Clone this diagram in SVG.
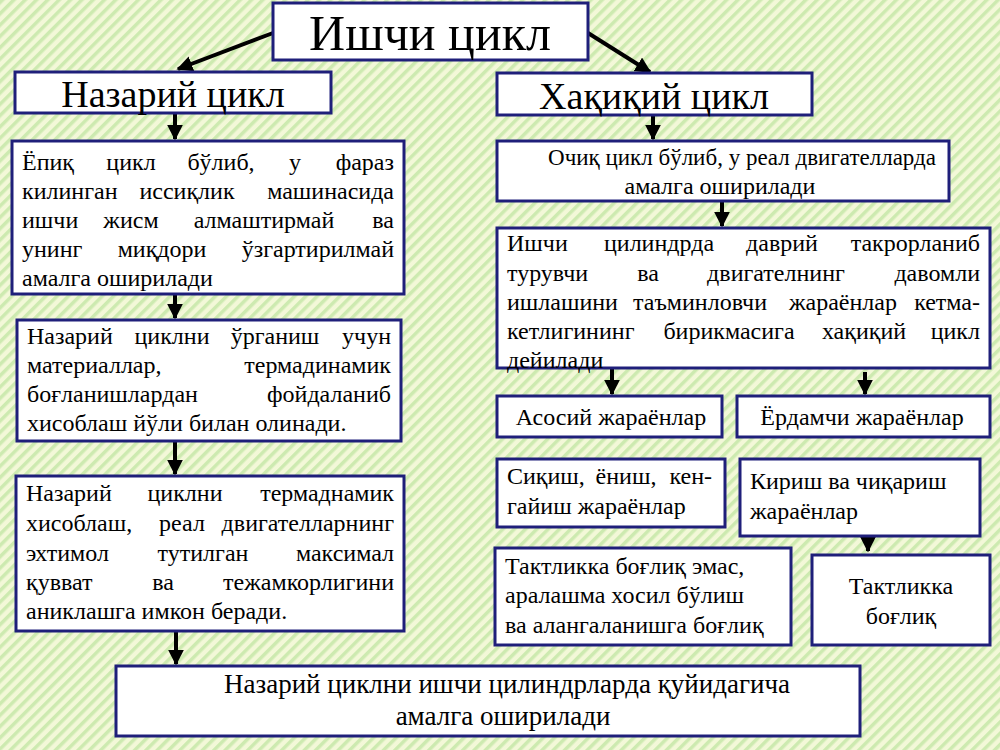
<svg xmlns="http://www.w3.org/2000/svg" width="1000" height="750" viewBox="0 0 1000 750" font-family="'Liberation Serif', 'Times New Roman', 'DejaVu Serif', serif">
<defs>
<pattern id="bg" patternUnits="userSpaceOnUse" width="8" height="8" patternTransform="rotate(45)">
<rect width="8" height="8" fill="#f3f8d8"/><rect width="3.5" height="8" fill="#cdeab0"/>
</pattern>
<marker id="ah" viewBox="0 0 10 10" refX="9" refY="5" markerWidth="4" markerHeight="4" orient="auto" markerUnits="strokeWidth"><path d="M0,0 L10,5 L0,10 z" fill="#000"/></marker>
<style>
.b{fill:#fff;stroke:#1f1f7a;stroke-width:3}
.t{font-size:24px}
.c{text-anchor:middle}
.e{text-anchor:end}
.a{stroke:#000;stroke-width:4;fill:none;marker-end:url(#ah)}
</style>
</defs>
<rect width="1000" height="750" fill="url(#bg)"/>
<g id="connectors">
<line class="a" x1="273" y1="33" x2="178" y2="69"/>
<line class="a" x1="588" y1="33" x2="650" y2="72"/>
<line class="a" x1="175" y1="113" x2="175" y2="139"/>
<line class="a" x1="175" y1="294" x2="175" y2="318"/>
<line class="a" x1="175" y1="441" x2="175" y2="474"/>
<line class="a" x1="176" y1="631" x2="176" y2="664"/>
<line class="a" x1="653" y1="115" x2="653" y2="139"/>
<line class="a" x1="722" y1="201" x2="722" y2="226"/>
<line class="a" x1="612" y1="368" x2="612" y2="394"/>
<line class="a" x1="865" y1="372" x2="865" y2="394"/>
<line class="a" x1="868" y1="527" x2="868" y2="551"/>
</g>
<g id="title"><rect class="b" x="273" y="3" width="315" height="57"/><text class="c" x="430" y="50" font-size="50">Ишчи цикл</text></g>
<g id="nazariy"><rect class="b" x="15" y="72" width="316" height="41"/><text class="c" x="173" y="107" font-size="38">Назарий цикл</text></g>
<g id="haqiqiy"><rect class="b" x="497" y="73" width="315" height="42"/><text class="c" x="654" y="109" font-size="38">Хақиқий цикл</text></g>
<g id="l1" class="t"><rect class="b" x="12" y="141" width="392" height="153"/>
<text x="22" y="170">Ёпиқ</text><text class="c" x="131" y="170">цикл</text><text class="c" x="221" y="170">бўлиб,</text><text class="c" x="295" y="170">у</text><text class="e" x="394" y="170">фараз</text>
<text x="22" y="199">килинган</text><text class="c" x="187" y="199">иссиқлик</text><text class="e" x="394" y="199">машинасида</text>
<text x="22" y="228">ишчи</text><text class="c" x="131" y="228">жисм</text><text class="c" x="264" y="228">алмаштирмай</text><text class="e" x="394" y="228">ва</text>
<text x="22" y="257">унинг</text><text class="c" x="162" y="257">миқдори</text><text class="e" x="394" y="257">ўзгартирилмай</text>
<text x="22" y="286">амалга оширилади</text></g>
<g id="l2" class="t"><rect class="b" x="17" y="320" width="384" height="121"/>
<text x="27" y="344">Назарий</text><text class="c" x="172" y="344">циклни</text><text class="c" x="275" y="344">ўрганиш</text><text class="e" x="391" y="344">учун</text>
<text x="27" y="373">материаллар,</text><text class="e" x="391" y="373">термадинамик</text>
<text x="27" y="402">боғланишлардан</text><text class="e" x="391" y="402">фойдаланиб</text>
<text x="27" y="431">хисоблаш йўли билан олинади.</text></g>
<g id="l3" class="t"><rect class="b" x="16" y="476" width="388" height="155"/>
<text x="26" y="501">Назарий</text><text class="c" x="185" y="501">циклни</text><text class="e" x="394" y="501">термаднамик</text>
<text x="26" y="531">хисоблаш,</text><text class="c" x="182" y="531">реал</text><text class="e" x="394" y="531">двигателларнинг</text>
<text x="26" y="561">эхтимол</text><text class="c" x="203" y="561">тутилган</text><text class="e" x="394" y="561">максимал</text>
<text x="26" y="590">қувват</text><text class="c" x="163" y="590">ва</text><text class="e" x="394" y="590">тежамкорлигини</text>
<text x="26" y="619">аниклашга имкон беради.</text></g>
<g id="bottom"><rect class="b" x="116" y="666" width="744" height="70"/>
<text class="c" x="507" y="693" font-size="27">Назарий циклни ишчи цилиндрларда қуйидагича</text>
<text class="c" x="503" y="725" font-size="27">амалга оширилади</text></g>
<g id="r1" class="t"><rect class="b" x="497" y="141" width="452" height="60"/>
<text class="c" x="742" y="165" font-size="23">Очиқ цикл бўлиб, у реал двигателларда</text>
<text class="c" x="720" y="194">амалга оширилади</text></g>
<g id="r2" class="t"><rect class="b" x="497" y="228" width="493" height="140"/>
<text x="507" y="251">Ишчи</text><text class="c" x="659" y="251">цилиндрда</text><text class="c" x="782" y="251">даврий</text><text class="e" x="980" y="251">такрорланиб</text>
<text x="507" y="281">турувчи</text><text class="c" x="648" y="281">ва</text><text class="c" x="776" y="281">двигателнинг</text><text class="e" x="980" y="281">давомли</text>
<text x="507" y="310">ишлашини</text><text class="c" x="700" y="310">таъминловчи</text><text class="c" x="843" y="310">жараёнлар</text><text class="e" x="980" y="310">кетма-</text>
<text x="507" y="339">кетлигининг</text><text class="c" x="729" y="339">бирикмасига</text><text class="c" x="864" y="339">хақиқий</text><text class="e" x="980" y="339">цикл</text>
<text x="507" y="368">дейилади</text></g>
<g id="asosiy" class="t"><rect class="b" x="497" y="396" width="225" height="41"/><text class="c" x="611" y="425">Асосий жараёнлар</text></g>
<g id="yordamchi" class="t"><rect class="b" x="737" y="396" width="253" height="41"/><text class="c" x="862" y="425">Ёрдамчи жараёнлар</text></g>
<g id="siqish" class="t"><rect class="b" x="497" y="459" width="228" height="68"/>
<text x="507" y="484">Сиқиш,</text><text class="c" x="626" y="484">ёниш,</text><text class="e" x="712" y="484">кен-</text>
<text x="507" y="514">гайиш жараёнлар</text></g>
<g id="kirish" class="t"><rect class="b" x="740" y="459" width="240" height="77"/>
<text x="750" y="489">Кириш ва чиқариш</text>
<text x="750" y="519">жараёнлар</text></g>
<g id="taktemas" class="t"><rect class="b" x="495" y="548" width="296" height="97"/>
<text x="505" y="574">Тактликка боғлиқ эмас,</text>
<text x="505" y="603">аралашма хосил бўлиш</text>
<text x="505" y="633">ва алангаланишга боғлиқ</text></g>
<g id="taktboglik" class="t"><rect class="b" x="812" y="555" width="178" height="90"/>
<text class="c" x="901" y="594">Тактликка</text>
<text class="c" x="901" y="624">боғлиқ</text></g>
</svg>
